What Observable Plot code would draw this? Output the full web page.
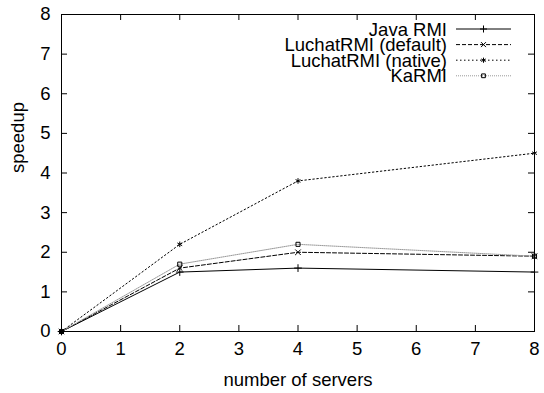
<!DOCTYPE html>
<html>
<head>
<meta charset="utf-8">
<script src="https://cdn.jsdelivr.net/npm/d3@7"></script>
<script src="https://cdn.jsdelivr.net/npm/@observablehq/plot@0.6"></script>
<style>
  html, body { margin: 0; padding: 0; background: #fff; }
  #chart svg { display: block; }
</style>
</head>
<body>
<div id="chart"></div>
<script>
// ---- data ----
const servers = [0, 2, 4, 8];
const javaRMI = [0, 1.5, 1.6, 1.5];
const luchatDefault = [0, 1.6, 2.0, 1.9];
const luchatNative = [0, 2.2, 3.8, 4.5];
const kaRMI = [0, 1.7, 2.2, 1.9];
const seriesNames = ["Java RMI", "LuchatRMI (default)", "LuchatRMI (native)", "KaRMI"];
const xTicks = [0, 1, 2, 3, 4, 5, 6, 7, 8];
const yTicks = [0, 1, 2, 3, 4, 5, 6, 7, 8];

// ---- styles ----
const styles = [
  {stroke: "#000", dash: null, symbol: "plus"},
  {stroke: "#000", dash: "4,2", symbol: "times"},
  {stroke: "#000", dash: "1.5,2.5", symbol: "asterisk"},
  {stroke: "#999", dash: "1,1", symbol: "square"}
];
const seriesValues = [javaRMI, luchatDefault, luchatNative, kaRMI];
const rows = seriesNames.flatMap((name, i) =>
  servers.map((s, j) => ({series: name, idx: i, x: s, y: seriesValues[i][j]})));

const font = "Liberation Sans, Arial, Helvetica, sans-serif";
const FS = 18.5;
const W = 544, H = 393;
const mL = 61, mR = 10, mT = 14, mB = 62;
const tickLen = 6;

const xPer = (W - mL - mR) / 8, yPer = (H - mT - mB) / 8;
const tx = tickLen / xPer, ty = tickLen / yPer;

function symbolOf(name) {
  return {plus: d3.symbolPlus, times: d3.symbolTimes || d3.symbolX,
          asterisk: d3.symbolAsterisk, square: d3.symbolSquare2 || d3.symbolSquare}[name];
}

const legend = () => {
  const g = d3.create("svg:g");
  const textRight = 447, x1 = 456, x2 = 511, y0 = 29, dy = 15.6;
  seriesNames.forEach((name, i) => {
    const y = y0 + i * dy;
    const st = styles[i];
    g.append("text").attr("x", textRight).attr("y", y).attr("dy", "0.36em")
      .attr("text-anchor", "end").attr("font-family", font).attr("font-size", FS)
      .attr("fill", "#000").text(name);
    g.append("line").attr("x1", x1).attr("x2", x2).attr("y1", y).attr("y2", y)
      .attr("stroke", st.stroke).attr("stroke-width", 1)
      .attr("stroke-dasharray", st.dash);
    g.append("path").attr("transform", `translate(${(x1 + x2) / 2},${y})`)
      .attr("d", d3.symbol(symbolOf(st.symbol), 18)())
      .attr("fill", "none").attr("stroke", "#000").attr("stroke-width", 1);
  });
  return g.node();
};

const chart = Plot.plot({
  width: W, height: H,
  marginLeft: mL, marginRight: mR, marginTop: mT, marginBottom: mB,
  style: {fontFamily: font, fontSize: FS + "px", color: "#000", background: "#fff", overflow: "visible"},
  x: {domain: [0, 8]},
  y: {domain: [0, 8]},
  marks: [
    Plot.ruleX(xTicks.slice(1, -1), {x: d => d, y1: 0, y2: ty, stroke: "#000"}),
    Plot.ruleX(xTicks.slice(1, -1), {x: d => d, y1: 8, y2: 8 - ty, stroke: "#000"}),
    Plot.ruleY(yTicks.slice(1, -1), {y: d => d, x1: 0, x2: tx, stroke: "#000"}),
    Plot.ruleY(yTicks.slice(1, -1), {y: d => d, x1: 8, x2: 8 - tx, stroke: "#000"}),
    Plot.axisX({ticks: xTicks, tickSize: 0, tickPadding: 10, fontSize: FS, label: null}),
    Plot.axisY({ticks: yTicks, tickSize: 0, tickPadding: 11, fontSize: FS, label: null}),
    Plot.text(["number of servers"], {frameAnchor: "bottom", dy: 49, text: d => d, fontSize: FS, lineAnchor: "middle"}),
    Plot.text(["speedup"], {frameAnchor: "left", dx: -43, rotate: -90, text: d => d, fontSize: FS}),
    ...seriesNames.map((name, i) => Plot.line(rows.filter(r => r.idx === i), {
      x: "x", y: "y", stroke: styles[i].stroke, strokeWidth: 1,
      strokeDasharray: styles[i].dash
    })),
    ...seriesNames.map((name, i) => Plot.dot(rows.filter(r => r.idx === i), {
      x: "x", y: "y", symbol: () => symbolOf(styles[i].symbol), r: 2.6,
      stroke: "#000", fill: "none", strokeWidth: 1
    })),
    Plot.frame({stroke: "#000", strokeWidth: 1}),
    legend
  ]
});
document.getElementById("chart").appendChild(chart);
</script>
</body>
</html>
